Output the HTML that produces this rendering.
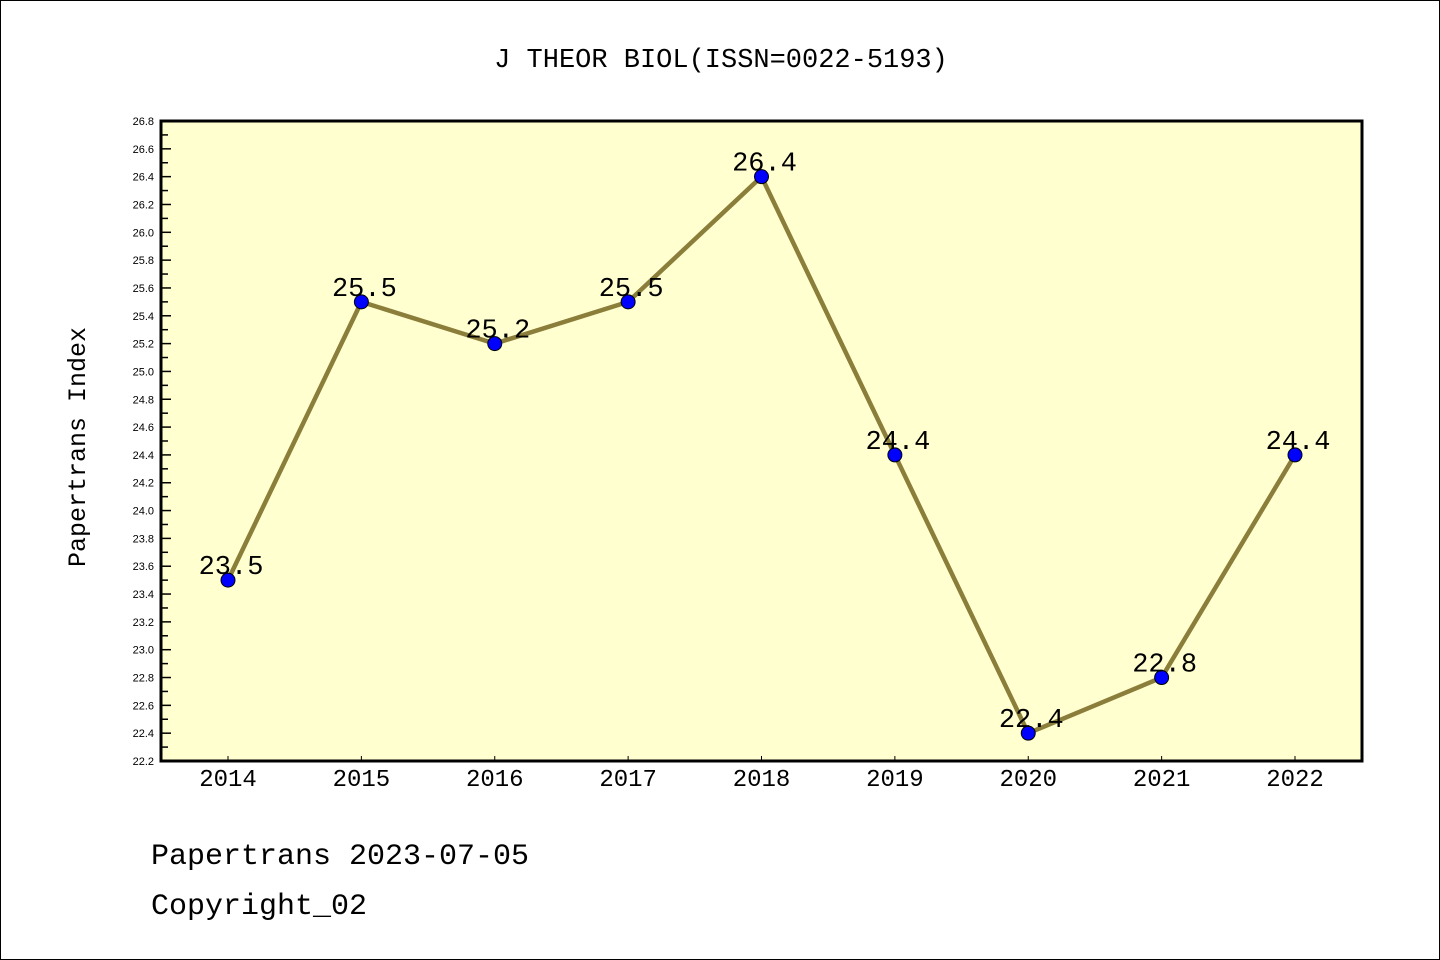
<!DOCTYPE html>
<html><head><meta charset="utf-8"><style>
body{margin:0;background:#fff}
#wrap{position:relative;width:1438px;height:958px;border:1px solid #000;background:#fff;overflow:hidden}
text{font-family:"Liberation Mono","Noto Sans CJK SC",monospace}
text.sans{font-family:"Liberation Sans",sans-serif}
</style></head><body>
<div id="wrap">
<svg id="chart" width="1440" height="960"></svg>
</div>
<script>
const years=["2014","2015","2016","2017","2018","2019","2020","2021","2022"];
const values=[23.5,25.5,25.2,25.5,26.4,24.4,22.4,22.8,24.4];
const valueLabels=["23.5","25.5","25.2","25.5","26.4","24.4","22.4","22.8","24.4"];
const yMin=22.2,yMax=26.8;
const NS="http://www.w3.org/2000/svg";
const svg=document.getElementById('chart');
const L=160,R=1361,T=120,B=760;
const x0=227,dx=133.375;
function xs(i){return x0+i*dx;}
function ys(v){return B-(v-yMin)/(yMax-yMin)*(B-T);}
function mk(tag,attrs,parent){const e=document.createElementNS(NS,tag);for(const k in attrs)e.setAttribute(k,attrs[k]);(parent||svg).appendChild(e);return e;}
const bg=mk('rect',{x:L,y:T,width:R-L,height:B-T,fill:'#ffffd0'});


const title=mk('text',{x:720,y:66,'text-anchor':'middle','font-size':27});
title.textContent='J THEOR BIOL(ISSN=0022-5193)';


const yt=mk('text',{x:0,y:0,'text-anchor':'middle','font-size':25,transform:'translate(84,446) rotate(-90)'});
yt.textContent='Papertrans Index';


const nT=Math.round((yMax-yMin)/0.1);
for(let k=0;k<=nT;k++){
  const v=yMin+k*0.1;const y=ys(v);
  const major=k%2===0;
  const t=mk('line',{x1:L,x2:L+(major?10:7),y1:y,y2:y,stroke:'#000','stroke-width':1.5});
  
  
  if(major){
    const lb=mk('text',{x:153,y:y+4,'text-anchor':'end','font-size':11,class:'sans'});
    lb.textContent=v.toFixed(1);
    
    
  }
}
years.forEach((yr,i)=>{
  const t=mk('line',{x1:xs(i),x2:xs(i),y1:B,y2:B-5,stroke:'#000','stroke-width':1});
  
  
  const lb=mk('text',{x:xs(i),y:785,'text-anchor':'middle','font-size':24});
  lb.textContent=yr;
  
  
});
const line=mk('polyline',{points:values.map((v,i)=>xs(i)+','+ys(v)).join(' '),fill:'none',stroke:'#8b7d3a','stroke-width':4.5,'stroke-linejoin':'round'});


values.forEach((v,i)=>{
  const c=mk('circle',{cx:xs(i),cy:ys(v),r:7,fill:'#0000ff',stroke:'#000','stroke-width':1});
  
  
  const lb=mk('text',{x:xs(i)+3,y:ys(v)-6,'text-anchor':'middle','font-size':27});
  lb.textContent=valueLabels[i];
  
  
});
const fr=mk('rect',{x:L,y:T,width:R-L,height:B-T,fill:'none',stroke:'#000','stroke-width':3});


const f1=mk('text',{x:150,y:863,'font-size':30});
f1.textContent='Papertrans 2023-07-05';


const f2=mk('text',{x:150,y:913,'font-size':30});
f2.textContent='Copyright_02';


</script>
</body></html>
